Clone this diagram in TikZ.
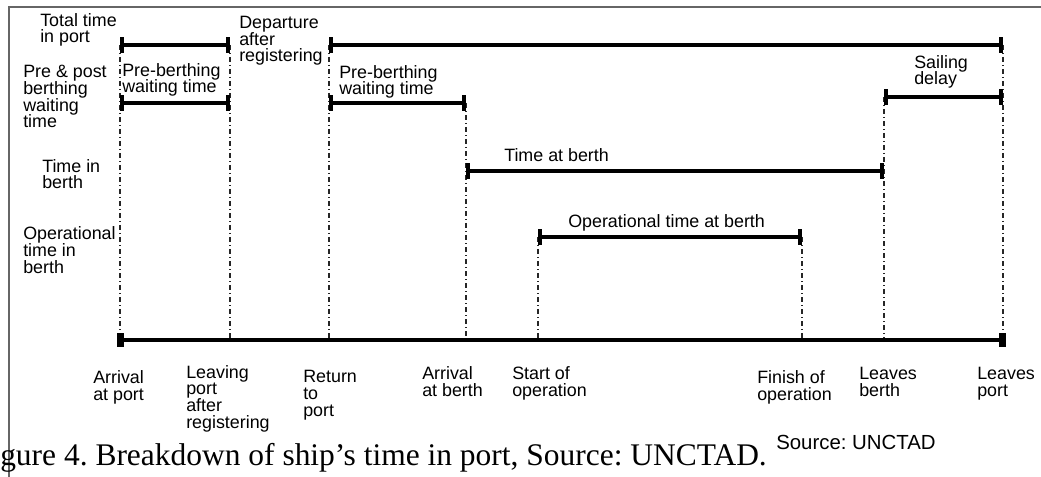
\documentclass[tikz,border=0pt]{standalone}
\usepackage{fontspec}
\setmainfont{Liberation Sans}
\newfontfamily\capfont{Liberation Serif}
\usetikzlibrary{arrows.meta}
\frenchspacing
\begin{document}
\begin{tikzpicture}[x=0.75pt,y=-0.75pt,
  lbl/.style={anchor=base west, align=left, inner sep=0pt, font=\fontsize{13.4}{12.5}\selectfont},
  bar/.style={line width=3.5pt, {Rectangle[length=3pt,width=11.5pt]}-{Rectangle[length=3pt,width=11.5pt]}},
  axisbar/.style={line width=3.5pt, {Rectangle[length=5pt,width=10.5pt]}-{Rectangle[length=5pt,width=10.5pt]}},
  guide/.style={line width=1.2pt, dash pattern=on 3.75pt off 2.25pt on 0.75pt off 2.25pt, black!85},
  frame/.style={line width=1.5pt, black!60}]
\useasboundingbox (0,0) rectangle (1041,477);
\clip (0,0) rectangle (1041,477);
% coordinates
\coordinate (t1) at (120,45);  \coordinate (t2) at (230,45);
\coordinate (t3) at (329,45);  \coordinate (t4) at (1003,45);
\coordinate (p1) at (120,103); \coordinate (p2) at (230,103);
\coordinate (p3) at (329,103); \coordinate (p4) at (466,103);
\coordinate (s1) at (884,97);  \coordinate (s2) at (1003,97);
\coordinate (b1) at (466,171); \coordinate (b2) at (884,171);
\coordinate (o1) at (538,237); \coordinate (o2) at (802,237);
\coordinate (x1) at (120,340); \coordinate (x2) at (230,340);
\coordinate (x3) at (329,340); \coordinate (x4) at (466,340);
\coordinate (x5) at (538,340); \coordinate (x6) at (802,340);
\coordinate (x7) at (884,340); \coordinate (x8) at (1003,340);
\coordinate (xa) at (117,340); \coordinate (xb) at (1006,340);
% frame
\draw[frame] (9,477) -- (9,7) -- (1041,7);
% guides
\draw[guide] (t1) -- (x1);
\draw[guide] (t2) -- (x2);
\draw[guide] (t3) -- (x3);
\draw[guide] (p4) -- (x4);
\draw[guide] (o1) -- (x5);
\draw[guide] (o2) -- (x6);
\draw[guide] (s1) -- (x7);
\draw[guide] (t4) -- (x8);
% bars
\draw[bar] (t1) -- (t2);
\draw[bar] (t3) -- (t4);
\draw[bar] (p1) -- (p2);
\draw[bar] (p3) -- (p4);
\draw[bar] (s1) -- (s2);
\draw[bar] (b1) -- (b2);
\draw[bar] (o1) -- (o2);
\draw[axisbar] (xa) -- (xb);
% row labels (anchored at the baseline of the last line)
\node[lbl] (lt) at (40,43) {Total time\\in port};
\node[lbl] (ld) at (239,62) {Departure\\after\\registering};
\node[lbl] (lp) at (23,128) {Pre \& post\\berthing\\waiting\\time};
\node[lbl] (lp1) at (122,93) {Pre-berthing\\waiting time};
\node[lbl] (lp2) at (339,95) {Pre-berthing\\waiting time};
\node[lbl] (ls) at (914,85) {Sailing\\delay};
\node[lbl] (lb) at (42,189) {Time in\\berth};
\node[lbl] (lb2) at (504,162) {Time at berth};
\node[lbl] (lo) at (23,273) {Operational\\time in\\berth};
\node[lbl] (lo2) at (568,228) {Operational time at berth};
% axis labels
\node[lbl] (e1) at (93,400) {Arrival\\at port};
\node[lbl] (e2) at (186,428) {Leaving\\port\\after\\registering};
\node[lbl] (e3) at (303,416) {Return\\to\\port};
\node[lbl] (e4) at (422,396) {Arrival\\at berth};
\node[lbl] (e5) at (512,396) {Start of\\operation};
\node[lbl] (e6) at (757,400) {Finish of\\operation};
\node[lbl] (e7) at (859,396) {Leaves\\berth};
\node[lbl] (e8) at (977,396) {Leaves\\port};
% source and caption
\node[anchor=base west, inner sep=0pt, font=\fontsize{15.3}{18}\selectfont] (src) at (776,449) {Source: UNCTAD};
\node[anchor=base west, inner sep=0pt, font=\capfont\fontsize{23.6}{27}\selectfont] (cap) at (0,465) {gure 4. Breakdown of ship’s time in port, Source: UNCTAD.};
\end{tikzpicture}
\end{document}
